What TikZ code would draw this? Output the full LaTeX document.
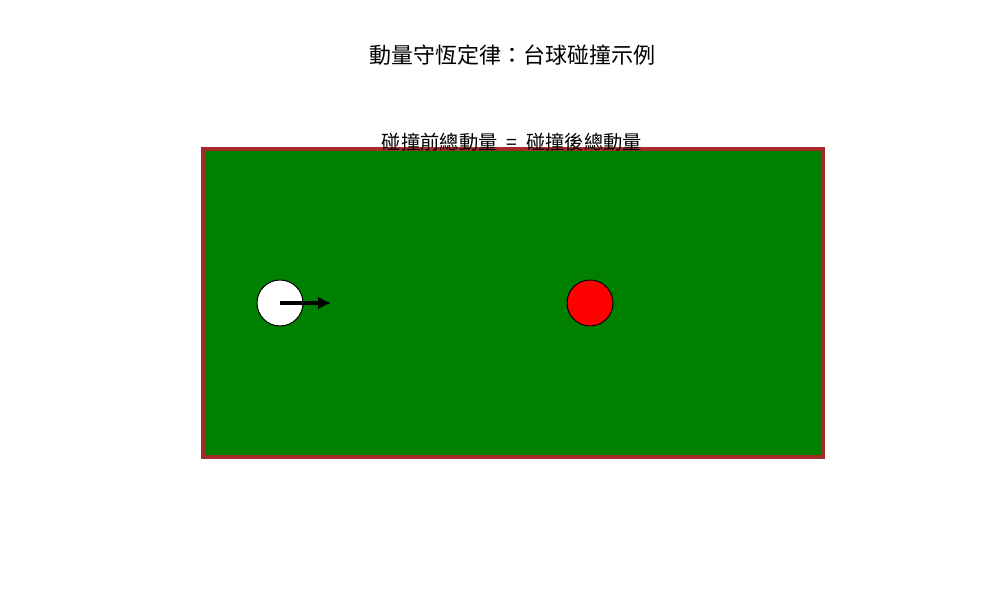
\documentclass[tikz,border=0pt]{standalone}
\usepackage{fontspec}
\setmainfont{Noto Sans CJK TC}
\usepackage{xcolor}
\usepackage{tikz}
\usetikzlibrary{arrows.meta}
\definecolor{tablegreen}{RGB}{0,128,0}
\definecolor{railbrown}{RGB}{165,42,42}

\begin{document}
\begin{tikzpicture}[>={Latex[length=13bp,width=13bp]},line join=miter,]
%%
\useasboundingbox (0bp,0bp) rectangle (1000bp,600bp);
\node (table) at (513bp,297bp) [draw=railbrown,fill=tablegreen,line width=3.5bp,minimum width=620bp,minimum height=308bp,inner sep=0pt] {};
  \node (cue) at (280bp,297bp) [draw,fill=white,circle,line width=1bp,minimum size=46bp,inner sep=0pt] {};
  \node (red) at (590bp,297bp) [draw,fill=red,circle,line width=1bp,minimum size=46bp,inner sep=0pt] {};
  \coordinate (tip) at (331bp,297bp);
  \node (title) at (512bp,545bp) [font=\fontsize{22bp}{26bp}\selectfont] {動量守恆定律：台球碰撞示例};
  \node (sub) at (512bp,458bp) [font=\fontsize{19.3bp}{23bp}\selectfont] {碰撞前總動量\hspace{9bp}=\hspace{9bp}碰撞後總動量};
  \draw [->,line width=4.5bp,] (cue.center) -- (tip);
%
\end{tikzpicture}
\end{document}
